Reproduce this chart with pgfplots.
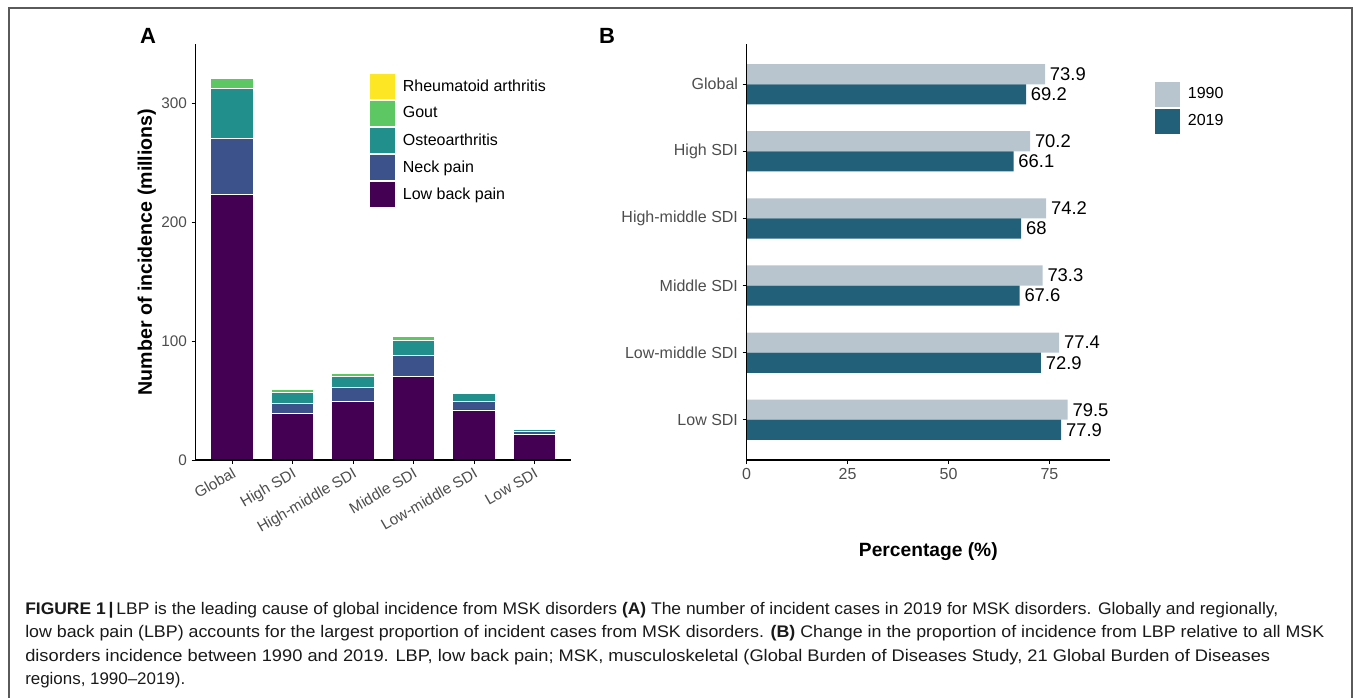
\documentclass[border=0pt]{standalone}
\usepackage{fontspec}
\setmainfont{Liberation Sans}
\usepackage{graphicx}
\usepackage{pgfplots}
\pgfplotsset{compat=1.18}
\definecolor{cLBP}{HTML}{440154}
\definecolor{cNeck}{HTML}{3B528B}
\definecolor{cOA}{HTML}{21908C}
\definecolor{cGout}{HTML}{5DC863}
\definecolor{cRA}{HTML}{FDE725}
\definecolor{c1990}{HTML}{B8C5CF}
\definecolor{c2019}{HTML}{22607A}
\definecolor{tickgray}{HTML}{4D4D4D}
\definecolor{framegray}{HTML}{5A5A5A}
\begin{document}
\begin{tikzpicture}[x=0.75pt,y=0.75pt]
\useasboundingbox (0,0) rectangle (1355,697);
\draw[framegray, line width=1.1pt] (9,-2) -- (9,689) -- (1352,689) -- (1352,-2);

% ---------------- Panel A ----------------
\begin{axis}[
  at={(146.775pt,177.75pt)}, anchor=south west,
  scale only axis, width=281.25pt, height=312pt,
  axis on top,
  ybar stacked, bar width=0.7,
  xmin=0.4, xmax=6.6, ymin=0, ymax=350,
  axis lines*=left,
  axis line style={black, line width=0.8pt},
  xtick={1,...,6},
  xticklabels={Global,High SDI,High-middle SDI,Middle SDI,Low-middle SDI,Low SDI},
  ytick={0,100,200,300},
  tick align=outside, major tick length=3pt,
  tick style={black, line width=0.6pt},
  ticklabel style={font=\fontsize{11.5}{13}\selectfont, text=tickgray},
  xticklabel style={rotate=30, anchor=north east, inner sep=1.5pt},
  /pgf/number format/assume math mode=true,
  ylabel={Number of incidence (millions)},
  ylabel style={font=\bfseries\fontsize{14.7}{16}\selectfont, at={(axis description cs:-0.1307,0.5)}, anchor=center},
  reverse legend,
  legend cell align=left,
  legend style={draw=none, fill=none, at={(axis description cs:0.4621,0.9303)}, anchor=north west,
    inner sep=0pt, outer sep=0pt, row sep=0.4pt, column sep=3.5pt,
    font=\fontsize{12}{14}\selectfont},
  legend image code/.code={\draw[#1, draw=white, line width=0.4pt] (0pt,-9.75pt) rectangle (19.5pt,9.75pt);},
  every axis plot/.append style={draw=white, line width=0.5pt},
]
\addplot[fill=cLBP] coordinates {(1,223.4) (2,39.2) (3,49.6) (4,70.4) (5,42.1) (6,21.3)};
\addlegendentry{Low back pain}
\addplot[fill=cNeck] coordinates {(1,47.4) (2,8.5) (3,11.2) (4,17.9) (5,7.5) (6,2.8)};
\addlegendentry{Neck pain}
\addplot[fill=cOA] coordinates {(1,41.5) (2,9.5) (3,9.6) (4,12.6) (5,6.5) (6,1.7)};
\addlegendentry{Osteoarthritis}
\addplot[fill=cGout] coordinates {(1,9.0) (2,2.0) (3,2.2) (4,2.8) (5,1.1) (6,0.8)};
\addlegendentry{Gout}
\addplot[fill=cRA] coordinates {(1,0.8) (2,0.3) (3,0.3) (4,0.3) (5,0.3) (6,0.1)};
\addlegendentry{Rheumatoid arthritis}
\end{axis}

% ---------------- Panel B ----------------
\begin{axis}[
  at={(560pt,177.75pt)}, anchor=south west,
  scale only axis, width=272.5pt, height=312pt,
  axis on top,
  xbar, bar width=0.3,
  xmin=0, xmax=90, ymin=0.4, ymax=6.6,
  axis lines*=left,
  axis line style={black, line width=0.8pt},
  ytick={1,...,6},
  yticklabels={Low SDI,Low-middle SDI,Middle SDI,High-middle SDI,High SDI,Global},
  xtick={0,25,50,75},
  tick align=outside, major tick length=3pt,
  tick style={black, line width=0.6pt},
  ticklabel style={font=\fontsize{12}{14}\selectfont, text=tickgray},
  /pgf/number format/assume math mode=true,
  xlabel={Percentage (\%)},
  xlabel style={font=\bfseries\fontsize{14.4}{16}\selectfont, at={(axis description cs:0.5,-0.2204)}, anchor=center},
  nodes near coords,
  nodes near coords style={font=\fontsize{13.8}{15}\selectfont, text=black, anchor=west, inner sep=3.5pt},
  legend cell align=left,
  legend style={draw=none, fill=none, at={(axis description cs:1.1211,0.9111)}, anchor=north west,
    inner sep=0pt, outer sep=0pt, row sep=0.4pt, column sep=3.5pt,
    font=\fontsize{12}{14}\selectfont},
  legend image code/.code={\draw[#1, draw=white, line width=0.4pt] (0pt,-9.75pt) rectangle (19.5pt,9.75pt);},
  clip=false,
]
\addplot[fill=c1990, draw=none, bar shift=0.15] coordinates {(79.5,1) (77.4,2) (73.3,3) (74.2,4) (70.2,5) (73.9,6)};
\addlegendentry{1990}
\addplot[fill=c2019, draw=none, bar shift=-0.15] coordinates {(77.9,1) (72.9,2) (67.6,3) (68,4) (66.1,5) (69.2,6)};
\addlegendentry{2019}
\end{axis}

% panel letters
\node[font=\bfseries\fontsize{16.5}{18}\selectfont] at (148,661) {A};
\node[font=\bfseries\fontsize{16.5}{18}\selectfont] at (607,661) {B};

% caption
\begin{scope}[every node/.style={anchor=base west, inner sep=0pt, font=\fontsize{12.6}{14}\selectfont, text=black!90}]
\node at (25,83) {\resizebox{939.75pt}{\height}{\textbf{FIGURE 1}\,\textbf{|}\,LBP is the leading cause of global incidence from MSK disorders \textbf{(A)} The number of incident cases in 2019 for MSK disorders. Globally and regionally,}};
\node at (25,59.3) {\resizebox{974.25pt}{\height}{low back pain (LBP) accounts for the largest proportion of incident cases from MSK disorders. \textbf{(B)} Change in the proportion of incidence from LBP relative to all MSK}};
\node at (25,36) {\resizebox{933.75pt}{\height}{disorders incidence between 1990 and 2019. LBP, low back pain; MSK, musculoskeletal (Global Burden of Diseases Study, 21 Global Burden of Diseases}};
\node at (25,13) {\resizebox{120pt}{\height}{regions, 1990--2019).}};
\end{scope}
\end{tikzpicture}
\end{document}
